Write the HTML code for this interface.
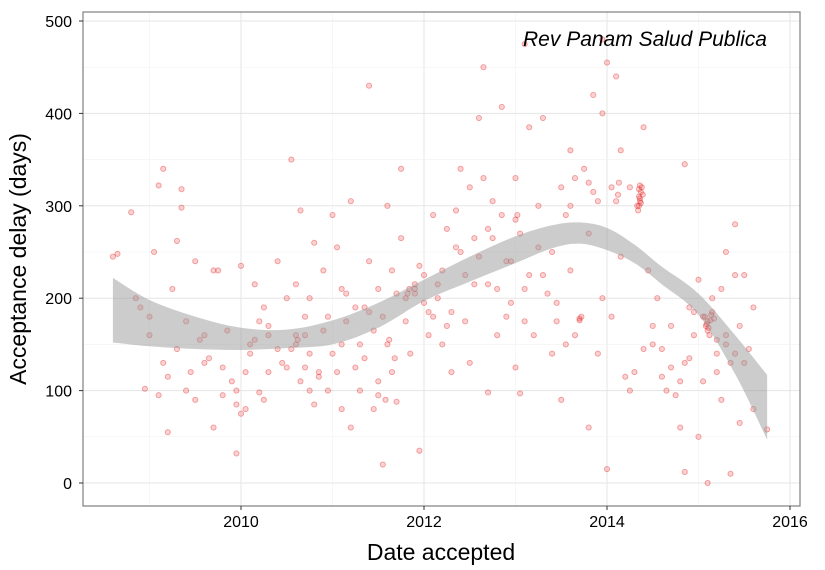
<!DOCTYPE html>
<html><head><meta charset="utf-8"><style>
body{margin:0;background:#fff;}
svg{display:block;font-family:"Liberation Sans",sans-serif;}
</style></head><body>
<svg id="chart" width="825" height="570"></svg>
<script>
const pointDates=[2008.6,2008.65,2008.8,2008.85,2008.9,2008.95,2009.0,2009.05,2009.1,2009.15,2009.15,2009.2,2009.1,2009.25,2009.3,2009.3,2009.35,2009.35,2009.4,2009.45,2009.5,2009.5,2009.55,2009.6,2009.65,2009.7,2009.7,2009.75,2009.8,2009.85,2009.9,2009.95,2009.95,2010.0,2010.0,2009.95,2010.05,2010.1,2010.15,2010.15,2010.2,2010.25,2010.25,2010.3,2010.3,2010.2,2010.1,2010.4,2010.45,2010.5,2010.55,2010.6,2010.6,2010.65,2010.65,2010.7,2010.7,2010.75,2010.75,2010.8,2010.8,2010.85,2010.9,2010.9,2010.95,2011.0,2011.0,2011.05,2011.05,2011.1,2011.1,2011.15,2011.2,2011.2,2011.25,2011.3,2011.3,2011.35,2011.4,2011.4,2011.45,2011.5,2011.5,2011.55,2011.55,2011.6,2011.6,2011.65,2011.65,2011.7,2011.7,2011.75,2011.75,2011.8,2011.85,2011.9,2011.9,2011.95,2012.0,2011.95,2012.05,2012.1,2012.1,2012.15,2012.2,2012.2,2012.25,2012.3,2012.3,2012.35,2012.4,2012.45,2012.5,2012.5,2012.55,2012.6,2012.6,2012.65,2012.65,2012.7,2012.7,2012.75,2012.8,2012.8,2012.85,2012.85,2012.9,2012.95,2013.0,2013.0,2013.05,2013.05,2013.1,2013.1,2013.15,2013.2,2013.25,2013.25,2013.3,2013.3,2013.4,2013.4,2013.45,2013.5,2013.5,2013.55,2013.6,2013.6,2013.65,2013.7,2013.7,2013.72,2013.75,2013.8,2013.8,2013.85,2013.9,2013.9,2013.95,2013.95,2014.0,2014.0,2014.05,2014.05,2014.1,2014.15,2014.15,2014.2,2014.25,2014.3,2014.35,2014.35,2014.36,2014.37,2014.38,2014.34,2014.35,2014.4,2014.4,2014.45,2014.5,2014.55,2014.6,2014.65,2014.7,2014.75,2014.8,2014.85,2014.85,2014.9,2014.95,2015.0,2015.0,2015.05,2015.05,2015.08,2015.1,2015.1,2015.12,2015.15,2015.15,2015.2,2015.2,2015.25,2015.3,2015.3,2015.35,2015.4,2015.4,2015.45,2015.45,2015.5,2015.55,2015.6,2015.6,2015.75,2015.35,2015.1,2014.85,
2009.0,2009.2,2009.4,2009.6,2009.8,2010.05,2010.3,2010.5,2010.55,2010.6,2010.62,2010.7,2010.85,2010.95,2011.1,2011.25,2011.35,2011.45,2011.5,2011.58,2011.62,2011.68,2011.8,2011.82,2011.84,2012.0,2012.05,2012.15,2012.25,2012.4,2012.55,2012.7,2012.75,2012.9,2012.95,2013.0,2013.02,2013.15,2013.35,2013.45,2013.55,2013.6,2013.65,2013.8,2013.85,2014.1,2014.12,2014.13,2014.33,2014.36,2014.39,2014.36,2014.37,2014.5,2014.6,2014.7,2014.8,2014.95,2015.07,2015.09,2015.11,2015.13,2015.14,2015.17,2015.25,2015.3,2015.4,2015.5,2010.4,2010.75,2011.15,2011.4,2011.9,2012.35,2012.45,2013.1,2013.95,2014.25,2014.9,2015.2];
const pointDelays=[245,248,293,200,190,102,180,250,95,130,340,55,322,210,145,262,318,298,100,120,240,90,155,160,135,230,60,230,125,165,110,100,32,75,235,85,80,140,155,215,98,90,190,120,170,175,150,240,130,125,350,215,150,110,295,180,160,140,200,85,260,115,230,165,100,290,140,255,120,210,80,175,305,60,190,150,100,135,430,240,80,210,95,180,20,150,300,230,120,88,205,340,265,175,140,205,210,235,195,35,160,290,180,215,230,150,275,185,120,295,340,175,130,320,215,245,395,330,450,275,98,265,160,210,407,290,180,240,125,330,97,270,210,475,385,160,300,255,225,395,140,250,195,320,90,290,230,360,160,178,176,180,340,270,60,420,305,140,200,480,455,15,320,180,440,360,245,115,100,120,300,310,305,315,320,295,318,385,145,230,150,200,115,100,170,95,60,345,130,190,160,50,220,110,180,170,175,165,160,185,200,140,120,90,250,150,130,280,225,65,170,225,145,190,80,58,10,0,12,
160,115,175,130,95,120,160,200,145,160,155,125,120,180,150,125,190,165,110,90,155,135,200,205,210,225,185,200,170,250,265,215,305,240,195,285,290,225,205,175,150,300,330,325,315,305,312,325,300,308,312,322,303,170,145,125,110,185,180,172,168,176,182,178,210,160,140,130,145,100,205,185,215,255,225,175,400,320,135,155];
const bandDates=[2008.6,2009.0,2009.5,2010.0,2010.5,2011.0,2011.5,2012.0,2012.5,2013.0,2013.4,2013.7,2014.0,2014.3,2014.6,2015.0,2015.4,2015.75];
const bandUpper=[222,198,180,168,166,176,195,220,245,267,279,282,276,258,234,205,160,117];
const bandLower=[152,148,145,144,146,150,168,197,218,238,254,259,252,238,215,182,118,47];
const xTicks=[2010,2012,2014,2016];
const yTicks=[0,100,200,300,400,500];

const svg=document.getElementById('chart');
const NS='http://www.w3.org/2000/svg';
const L=83,R=800,T=12,B=506;
const xs=v=>241+(v-2010)*91.5;
const ys=v=>483-v*0.924;
function mk(tag,attrs,parent){const e=document.createElementNS(NS,tag);for(const k in attrs)e.setAttribute(k,attrs[k]);(parent||svg).appendChild(e);return e;}
function smooth(p){let s='';for(let i=0;i<p.length-1;i++){const p0=p[i-1]||p[i],p1=p[i],p2=p[i+1],p3=p[i+2]||p2;
 const c1=[p1[0]+(p2[0]-p0[0])/6,p1[1]+(p2[1]-p0[1])/6],c2=[p2[0]-(p3[0]-p1[0])/6,p2[1]-(p3[1]-p1[1])/6];
 s+='C'+c1+' '+c2+' '+p2;}return s;}

const panel=mk('rect',{x:L,y:T,width:R-L,height:B-T,fill:'#fff'});


const grid=mk('g',{});


for(let v=2009;v<=2016;v+=1){const major=v%2===0;mk('line',{x1:xs(v),x2:xs(v),y1:T,y2:B,stroke:major?'#e5e5e5':'#f2f2f2','stroke-width':major?1:0.6},grid);}
for(let v=0;v<=500;v+=50){const major=v%100===0;mk('line',{x1:L,x2:R,y1:ys(v),y2:ys(v),stroke:major?'#e5e5e5':'#f2f2f2','stroke-width':major?1:0.6},grid);}

const pts=mk('g',{});


for(let i=0;i<pointDates.length;i++){
  const c=mk('circle',{cx:xs(pointDates[i]),cy:ys(pointDelays[i]),r:2.6,fill:'rgba(230,30,30,0.2)',stroke:'rgba(230,30,30,0.4)','stroke-width':0.9},pts);
  
  
}

const up=bandDates.map((x,i)=>[xs(x),ys(bandUpper[i])]);
const lo=bandDates.map((x,i)=>[xs(x),ys(bandLower[i])]).reverse();
const d='M'+up[0]+smooth(up)+'L'+lo[0]+smooth(lo)+'Z';
const band=mk('path',{d:d,fill:'rgba(153,153,153,0.5)',stroke:'none'});



const border=mk('rect',{x:L,y:T,width:R-L,height:B-T,fill:'none',stroke:'#7f7f7f','stroke-width':1.2});



xTicks.forEach(v=>{
  mk('line',{x1:xs(v),x2:xs(v),y1:B,y2:B+4,stroke:'#333'});
  const t=mk('text',{x:xs(v),y:B+21,'text-anchor':'middle','font-size':16,fill:'#000'});t.textContent=v;
  
  
});
yTicks.forEach(v=>{
  mk('line',{x1:L-4,x2:L,y1:ys(v),y2:ys(v),stroke:'#333'});
  const t=mk('text',{x:L-11,y:ys(v)+6,'text-anchor':'end','font-size':16,fill:'#000'});t.textContent=v;
  
  
});
const xt=mk('text',{x:441,y:560,'text-anchor':'middle','font-size':23,fill:'#000'});xt.textContent='Date accepted';


const yt=mk('text',{x:0,y:0,'text-anchor':'middle','font-size':23,fill:'#000',transform:'translate(26,259) rotate(-90)'});yt.textContent='Acceptance delay (days)';


const an=mk('text',{x:767,y:46,'text-anchor':'end','font-size':21,'font-style':'italic',fill:'#000'});an.textContent='Rev Panam Salud Publica';


</script>
</body></html>
